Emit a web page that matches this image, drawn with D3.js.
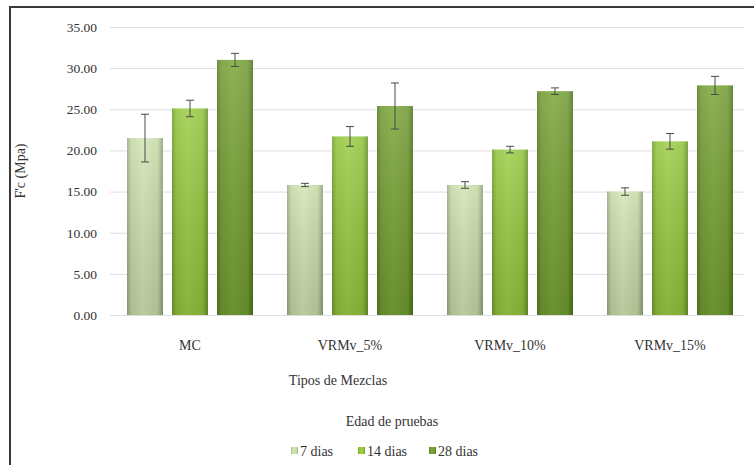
<!DOCTYPE html>
<html>
<head>
<meta charset="utf-8">
<script src="https://cdn.jsdelivr.net/npm/d3@7"></script>
<style>
  body { margin: 0; background: #fff; }
  text { font-family: "Liberation Serif", "Times New Roman", serif; fill: #333; }
</style>
</head>
<body>
<div id="chart"></div>
<script>
(function () {

const width = 754, height = 465;
const margin = ({ top: 27, right: 4, bottom: 148, left: 110 });

const mezclas = ["MC", "VRMv_5%", "VRMv_10%", "VRMv_15%"];
const edades = ["7 dias", "14 dias", "28 dias"];
const dias7 = [21.5, 15.8, 15.8, 15.0];
const dias14 = [25.1, 21.7, 20.1, 21.1];
const dias28 = [31.0, 25.4, 27.2, 27.9];
const err7 = [2.9, 0.2, 0.4, 0.45];
const err14 = [1.0, 1.2, 0.4, 0.95];
const err28 = [0.8, 2.8, 0.4, 1.1];
const yTicks = [0, 5, 10, 15, 20, 25, 30, 35];

const series = [dias7, dias14, dias28];
const errors = [err7, err14, err28];
const data = [];
mezclas.forEach((m, i) => {
  edades.forEach((e, j) => {
    data.push({ mezcla: m, edad: e, value: series[j][i], err: errors[j][i] });
  });
});

const svg = d3.select("#chart")
  .append("svg")
  .attr("width", width)
  .attr("height", height);

// gradients: darker edges, lighter centre
const defs = svg.append("defs");
const gradStops = {
  "7 dias": ["#98a684", "#d3e4b5", "#c3d8a3", "#8f9d7b"],
  "14 dias": ["#6f9a28", "#9ccd45", "#8fc23a", "#67902a"],
  "28 dias": ["#557a20", "#7aa536", "#6e9a2f", "#4d701c"]
};
edades.forEach((e, i) => {
  const g = defs.append("linearGradient")
    .attr("id", "g" + i)
    .attr("x1", 0).attr("x2", 1).attr("y1", 0).attr("y2", 0);
  const c = gradStops[e];
  g.append("stop").attr("offset", "0%").attr("stop-color", c[0]);
  g.append("stop").attr("offset", "12%").attr("stop-color", c[2]);
  g.append("stop").attr("offset", "45%").attr("stop-color", c[1]);
  g.append("stop").attr("offset", "85%").attr("stop-color", c[2]);
  g.append("stop").attr("offset", "100%").attr("stop-color", c[3]);
});
// vertical shading overlay
const shade = defs.append("linearGradient")
  .attr("id", "shade").attr("x1", 0).attr("x2", 0).attr("y1", 0).attr("y2", 1);
shade.append("stop").attr("offset", "0%").attr("stop-color", "#fff").attr("stop-opacity", 0.15);
shade.append("stop").attr("offset", "100%").attr("stop-color", "#000").attr("stop-opacity", 0.12);

// outer frame
svg.append("rect")
  .attr("x", 10).attr("y", 7)
  .attr("width", width + 10).attr("height", height + 10)
  .attr("fill", "none")
  .attr("stroke", "#3a3a3a")
  .attr("stroke-width", 2);

const x0 = d3.scaleBand()
  .domain(mezclas)
  .range([margin.left, width - margin.right])
  .paddingInner(0.2125)
  .paddingOuter(0.10625);

const x1 = d3.scaleBand()
  .domain(edades)
  .range([0, x0.bandwidth()])
  .paddingInner(0.2);

const y = d3.scaleLinear()
  .domain([0, 35])
  .range([height - margin.bottom - 2, margin.top]);

const color = d3.scaleOrdinal()
  .domain(edades)
  .range(edades.map((e, i) => `url(#g${i})`));

// y axis with gridlines
svg.append("g")
  .attr("class", "y-axis")
  .attr("transform", `translate(${margin.left},0)`)
  .call(d3.axisLeft(y).tickValues(yTicks).tickFormat(d3.format(".2f"))
    .tickSize(-(width - margin.right - margin.left - 6)).tickPadding(13))
  .call(g => g.select(".domain").remove())
  .call(g => g.selectAll(".tick line").attr("stroke", "#dedede"))
  .call(g => g.selectAll(".tick text").attr("font-size", 13.5));

// bars
const groups = svg.append("g")
  .selectAll("g")
  .data(mezclas)
  .join("g")
  .attr("transform", d => `translate(${x0(d)},0)`);

groups.selectAll("rect.bar")
  .data(m => data.filter(d => d.mezcla === m))
  .join("rect")
  .attr("class", "bar")
  .attr("x", d => x1(d.edad))
  .attr("y", d => y(d.value))
  .attr("width", x1.bandwidth())
  .attr("height", d => y(0) - y(d.value))
  .attr("fill", d => color(d.edad));

groups.selectAll("rect.shade")
  .data(m => data.filter(d => d.mezcla === m))
  .join("rect")
  .attr("class", "shade")
  .attr("x", d => x1(d.edad))
  .attr("y", d => y(d.value))
  .attr("width", x1.bandwidth())
  .attr("height", d => y(0) - y(d.value))
  .attr("fill", "url(#shade)");

// error bars
const eb = groups.selectAll("g.err")
  .data(m => data.filter(d => d.mezcla === m))
  .join("g")
  .attr("class", "err")
  .attr("stroke", "#4a4a4a")
  .attr("stroke-width", 1);

eb.append("line")
  .attr("x1", d => x1(d.edad) + x1.bandwidth() / 2)
  .attr("x2", d => x1(d.edad) + x1.bandwidth() / 2)
  .attr("y1", d => y(d.value + d.err))
  .attr("y2", d => y(d.value - d.err));
eb.append("line")
  .attr("x1", d => x1(d.edad) + x1.bandwidth() / 2 - 4)
  .attr("x2", d => x1(d.edad) + x1.bandwidth() / 2 + 4)
  .attr("y1", d => y(d.value + d.err))
  .attr("y2", d => y(d.value + d.err));
eb.append("line")
  .attr("x1", d => x1(d.edad) + x1.bandwidth() / 2 - 4)
  .attr("x2", d => x1(d.edad) + x1.bandwidth() / 2 + 4)
  .attr("y1", d => y(d.value - d.err))
  .attr("y2", d => y(d.value - d.err));

// x axis labels
svg.append("g")
  .attr("class", "x-axis")
  .attr("transform", `translate(0,${y(0)})`)
  .call(d3.axisBottom(x0).tickSize(0).tickPadding(25))
  .call(g => g.select(".domain").remove())
  .call(g => g.selectAll(".tick text").attr("font-size", 14));

// axis titles
svg.append("text")
  .attr("transform", `translate(25,${y(17.5)}) rotate(-90)`)
  .attr("text-anchor", "middle")
  .attr("font-size", 14)
  .text("F'c (Mpa)");

svg.append("text")
  .attr("x", 338).attr("y", 385)
  .attr("text-anchor", "middle")
  .attr("font-size", 14)
  .text("Tipos de Mezclas");

svg.append("text")
  .attr("x", 392).attr("y", 426)
  .attr("text-anchor", "middle")
  .attr("font-size", 14)
  .text("Edad de pruebas");

// legend
const legendX = [291, 358, 429];
const legend = svg.append("g")
  .selectAll("g")
  .data(edades)
  .join("g")
  .attr("transform", (d, i) => `translate(${legendX[i]},456)`);

legend.append("rect")
  .attr("x", 0).attr("y", -9)
  .attr("width", 7).attr("height", 7)
  .attr("fill", d => color(d));

legend.append("text")
  .attr("x", 9).attr("y", 0)
  .attr("font-size", 14)
  .text(d => d);

})();
</script>
</body>
</html>
